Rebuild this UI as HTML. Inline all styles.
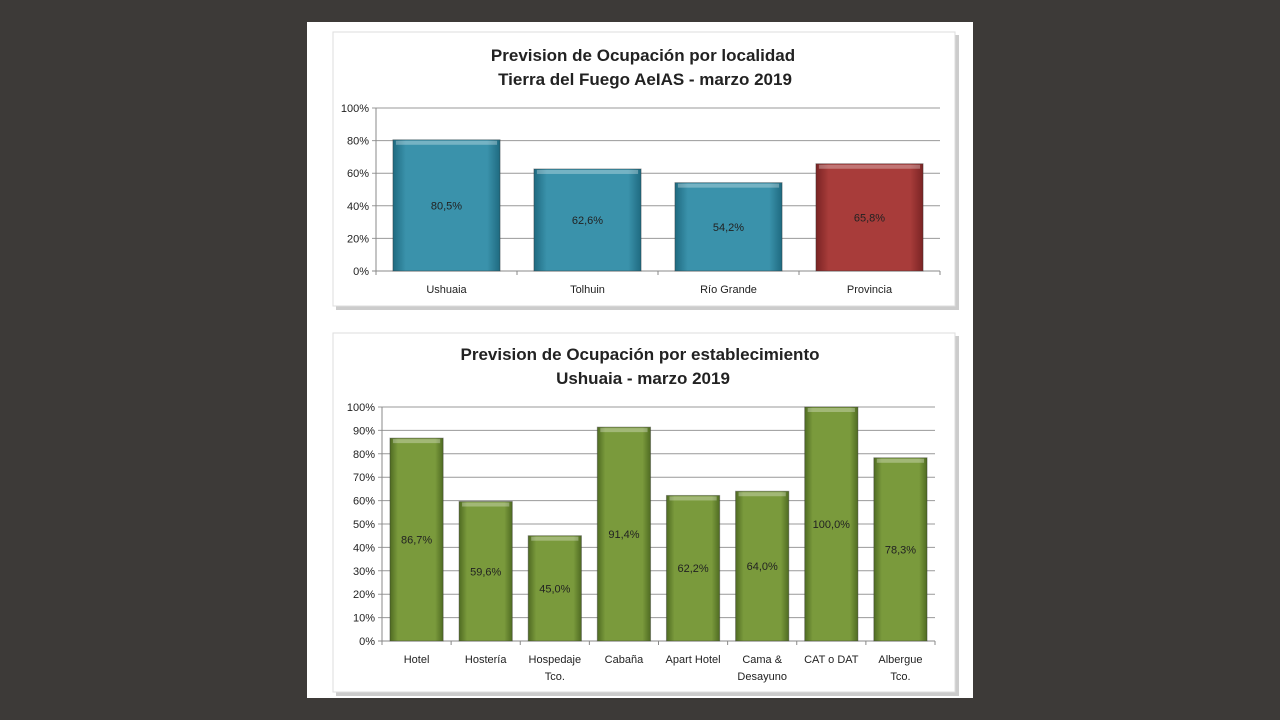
<!DOCTYPE html>
<html><head><meta charset="utf-8"><style>
body{margin:0;width:1280px;height:720px;background:#3d3a38;overflow:hidden;font-family:"Liberation Sans",sans-serif}
#panel{position:absolute;left:307px;top:22px;width:666px;height:676px;background:#fff}
svg{position:absolute;left:0;top:0}
</style></head><body>
<div id="panel"></div>
<svg width="1280" height="720" id="s">
<defs>
<linearGradient id="gb" x1="0" x2="1"><stop offset="0" stop-color="#1f6a80"/><stop offset=".12" stop-color="#3a92ab"/><stop offset=".88" stop-color="#3a92ab"/><stop offset="1" stop-color="#1f6a80"/></linearGradient>
<linearGradient id="gr" x1="0" x2="1"><stop offset="0" stop-color="#7a2424"/><stop offset=".12" stop-color="#a83c3a"/><stop offset=".88" stop-color="#a83c3a"/><stop offset="1" stop-color="#7a2424"/></linearGradient>
<linearGradient id="gg" x1="0" x2="1"><stop offset="0" stop-color="#4f6b22"/><stop offset=".15" stop-color="#7a9a3c"/><stop offset=".85" stop-color="#7a9a3c"/><stop offset="1" stop-color="#4f6b22"/></linearGradient>
</defs>
<rect x="336" y="35" width="623" height="275" fill="#ccc"/>
<rect x="333" y="32" width="622" height="274" fill="#fff" stroke="#ddd"/>
<rect x="336" y="336" width="623" height="360" fill="#ccc"/>
<rect x="333" y="333" width="622" height="359" fill="#fff" stroke="#ddd"/>
<g font-weight="bold" font-size="17" fill="#222" text-anchor="middle">
<text x="643" y="61">Prevision de Ocupación por localidad</text>
<text x="645" y="85">Tierra del Fuego AeIAS - marzo 2019</text>
<text x="640" y="360">Prevision de Ocupación por establecimiento</text>
<text x="643" y="384">Ushuaia - marzo 2019</text>
</g>
<g id="c1"></g><g id="c2"></g>
</svg>
<script>
const cats1=["Ushuaia","Tolhuin","Río Grande","Provincia"];
const vals1=[80.5,62.6,54.2,65.8];
const labels1=["80,5%","62,6%","54,2%","65,8%"];
const ticks1=[0,20,40,60,80,100];
const cats2=[["Hotel"],["Hostería"],["Hospedaje","Tco."],["Cabaña"],["Apart Hotel"],["Cama &","Desayuno"],["CAT o DAT"],["Albergue","Tco."]];
const vals2=[86.7,59.6,45.0,91.4,62.2,64.0,100.0,78.3];
const labels2=["86,7%","59,6%","45,0%","91,4%","62,2%","64,0%","100,0%","78,3%"];
const ticks2=[0,10,20,30,40,50,60,70,80,90,100];
const NS="http://www.w3.org/2000/svg";
function mk(p,t,a){const e=document.createElementNS(NS,t);for(const k in a)e.setAttribute(k,a[k]);p.appendChild(e);return e;}
function draw(g,cats,vals,labels,ticks,o){
  const y=v=>o.y0-(v/100)*(o.y0-o.y1);
  const cw=(o.x1-o.x0)/cats.length;
  ticks.forEach(t=>{
    const l=mk(g,'line',{x1:o.x0-4,x2:o.x1,y1:y(t),y2:y(t),stroke:t?'#999':'#888','stroke-width':1});
    
    
    const tx=mk(g,'text',{x:o.x0-7,y:y(t)+4,'font-size':11,'text-anchor':'end',fill:'#222'});
    tx.textContent=t+'%';
    
    
  });
  mk(g,'line',{x1:o.x0,x2:o.x0,y1:o.y1,y2:o.y0,stroke:'#888'});
  for(let i=0;i<=cats.length;i++){mk(g,'line',{x1:o.x0+i*cw,x2:o.x0+i*cw,y1:o.y0,y2:o.y0+4,stroke:'#888'});}
  cats.forEach((c,i)=>{
    const cx=o.x0+cw*(i+.5), bw=cw*o.bw;
    const r=mk(g,'rect',{x:cx-bw/2,y:y(vals[i]),width:bw,height:y(0)-y(vals[i]),fill:o.fill(i),stroke:'#333','stroke-opacity':.4});
    
    
    mk(g,'rect',{x:cx-bw/2+3,y:y(vals[i])+1,width:bw-6,height:4,fill:'#fff','fill-opacity':.3});
    const lt=mk(g,'text',{x:cx,y:y(vals[i]/2)+4,'font-size':11,'text-anchor':'middle',fill:'#222'});
    lt.textContent=labels[i];
    
    
    c=[].concat(c);
    c.forEach((s,j)=>{
      const ct=mk(g,'text',{x:cx,y:o.y0+22+j*17,'font-size':11,'text-anchor':'middle',fill:'#222'});
      ct.textContent=s;
      
      
    });
  });
}
draw(document.getElementById('c1'),cats1,vals1,labels1,ticks1,{x0:376,x1:940,y0:271,y1:108,bw:.76,fill:i=>i==3?'url(#gr)':'url(#gb)'});
draw(document.getElementById('c2'),cats2,vals2,labels2,ticks2,{x0:382,x1:935,y0:641,y1:407,bw:.77,fill:i=>'url(#gg)'});
</script>
</body></html>
